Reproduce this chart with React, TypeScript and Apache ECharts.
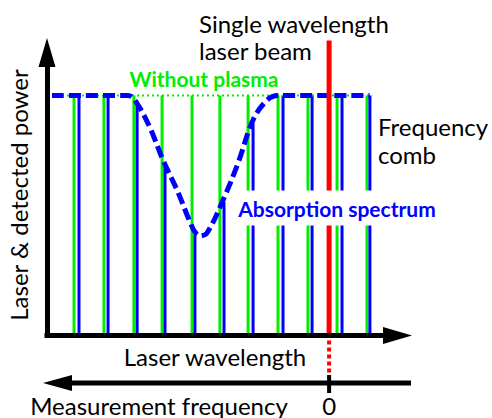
import React, { useEffect, useRef } from "react";
import * as echarts from "echarts";

// Frequency comb positions (laser wavelength units)
const GREEN_X = [0.92, 1.94, 2.96, 3.92, 4.94, 5.89, 6.85, 7.87, 8.89, 9.88, 10.9];
const GREEN_TOP = [1, 1, 1, 1, 1, 1, 1, 1, 1, 1, 1];
// Comb after plasma absorption
const BLUE_X = [1.09, 2.08, 3.07, 4.02, 5.04, 6.03, 7.02, 8.04, 9.03, 10.05, 11.0];
const BLUE_TOP = [1, 1, 0.966, 0.702, 0.42, 0.556, 0.883, 1, 1, 1, 1];
// Absorption spectrum curve
const CURVE_X = [0.17, 2.76, 3.07, 3.51, 3.95, 4.43, 4.87, 5.04, 5.21, 5.45, 6.0, 6.51, 7.02, 7.5, 7.87, 10.99];
const CURVE_Y = [1.0, 1.0, 0.966, 0.865, 0.731, 0.606, 0.473, 0.431, 0.415, 0.427, 0.565, 0.719, 0.898, 0.981, 1.0, 1.0];
// Without-plasma level
const LEVEL_X = [0.17, 11.08];
const LEVEL_Y = [1, 1];
// Single wavelength laser beam
const RED_X = 9.61;
const RED_TOP = 1.229;
const RED_BELOW = -0.16;

const X_MAX = 11.94;
const Y_MAX = 1.179;

const FONT = "Lato, 'Open Sans', sans-serif";
const GREEN = "#00EE00";
const BLUE = "#0000FF";
const RED = "#FF0000";

export default function App() {
  const ref = useRef<HTMLDivElement>(null);
  useEffect(() => {
    if (!ref.current) return;
    const chart = echarts.init(ref.current, undefined, { renderer: "svg" });
    const combSeries = (xs: number[], tops: number[], color: string) => ({
      type: "custom",
      clip: false,
      z: 2,
      data: xs.map((x, i) => [x, tops[i]]),
      renderItem: (_p: any, api: any) => {
        const x = api.value(0);
        const top = api.value(1);
        const p0 = api.coord([x, 0]);
        const p1 = api.coord([x, top]);
        return {
          type: "rect",
          shape: { x: p0[0] - 1.5, y: p1[1], width: 3, height: p0[1] - p1[1] },
          style: { fill: color },
        };
      },
    });
    const axisCommon = {
      type: "value",
      z: 6,
      axisLine: {
        show: true,
        onZero: false,
        symbol: ["none", "triangle"],
        symbolSize: [17, 29],
        lineStyle: { color: "#000", width: 5, cap: "square" },
      },
      axisTick: { show: false },
      axisLabel: { show: false },
      splitLine: { show: false },
    };
    chart.setOption({
      animation: false,
      grid: { left: 47, top: 52.5, right: 94.5, bottom: 82.5 },
      xAxis: { ...axisCommon, min: 0, max: X_MAX },
      yAxis: { ...axisCommon, min: 0, max: Y_MAX },
      series: [
        combSeries(GREEN_X, GREEN_TOP, GREEN),
        combSeries(BLUE_X, BLUE_TOP, BLUE),
        {
          type: "line",
          z: 3,
          showSymbol: false,
          symbol: "none",
          data: LEVEL_X.map((x, i) => [x, LEVEL_Y[i]]),
          lineStyle: { color: GREEN, width: 2, type: [2, 3] },
        },
        {
          type: "line",
          z: 4,
          showSymbol: false,
          symbol: "none",
          smooth: 0.35,
          data: CURVE_X.map((x, i) => [x, CURVE_Y[i]]),
          lineStyle: { color: BLUE, width: 5, type: [12, 5], cap: "butt" },
        },
        {
          type: "custom",
          clip: false,
          z: 5,
          data: [[RED_X, RED_TOP, RED_BELOW]],
          renderItem: (_p: any, api: any) => {
            const x = api.value(0);
            const pTop = api.coord([x, api.value(1)]);
            const p0 = api.coord([x, 0]);
            const pB = api.coord([x, api.value(2)]);
            return {
              type: "group",
              children: [
                {
                  type: "rect",
                  shape: { x: p0[0] - 2.5, y: pTop[1], width: 5, height: p0[1] - pTop[1] },
                  style: { fill: RED },
                },
                {
                  type: "line",
                  shape: { x1: p0[0], y1: p0[1] + 5, x2: pB[0], y2: pB[1] },
                  style: { stroke: RED, lineWidth: 4, lineDash: [4, 3] },
                },
              ],
            };
          },
        },
      ],
    });
    const redPx = chart.convertToPixel({ gridIndex: 0 }, [RED_X, 0]) as number[];
    const rx = redPx[0];
    const txt = (text: string, x: number, y: number, size: number, color: string, opts: any = {}) => ({
      type: "text",
      x,
      y,
      rotation: opts.rotation || 0,
      style: {
        text,
        fill: color,
        fontSize: size,
        fontFamily: FONT,
        fontWeight: opts.bold ? "bold" : "normal",
        align: opts.align || "left",
        textAlign: opts.align || "left",
        verticalAlign: "middle",
        textVerticalAlign: "middle",
        ...(opts.box
          ? { backgroundColor: "#fff", padding: [6, 5], lineHeight: 23 }
          : {}),
      },
      z: 10,
    });
    chart.setOption({
      graphic: [
        txt("Single wavelength", 199, 23, 24, "#000"),
        txt("laser beam", 199, 50, 24, "#000"),
        txt("Without plasma", 204, 78, 21, GREEN, { bold: true, align: "center" }),
        txt("Frequency", 378, 126, 24, "#000"),
        txt("comb", 378, 154, 24, "#000"),
        txt("Absorption spectrum", 337, 208, 21, BLUE, { bold: true, align: "center", box: true }),
        txt("Laser wavelength", 215, 356, 24, "#000", { align: "center" }),
        txt("Measurement frequency", 159, 405, 24, "#000", { align: "center" }),
        txt("0", rx, 405, 24, "#000", { align: "center" }),
        txt("Laser & detected power", 18, 195, 24, "#000", { align: "center", rotation: Math.PI / 2 }),
        {
          type: "line",
          shape: { x1: 70, y1: 383, x2: 411, y2: 383 },
          style: { stroke: "#000", lineWidth: 5 },
        },
        {
          type: "polygon",
          shape: { points: [[43, 383], [72, 375], [72, 391]] },
          style: { fill: "#000" },
        },
        {
          type: "line",
          shape: { x1: rx, y1: 375, x2: rx, y2: 393 },
          style: { stroke: "#000", lineWidth: 4 },
        },
      ],
    });
    return () => chart.dispose();
  }, []);
  return <div ref={ref} style={{ width: 492, height: 418, position: "absolute", left: 0, top: 0 }} />;
}
